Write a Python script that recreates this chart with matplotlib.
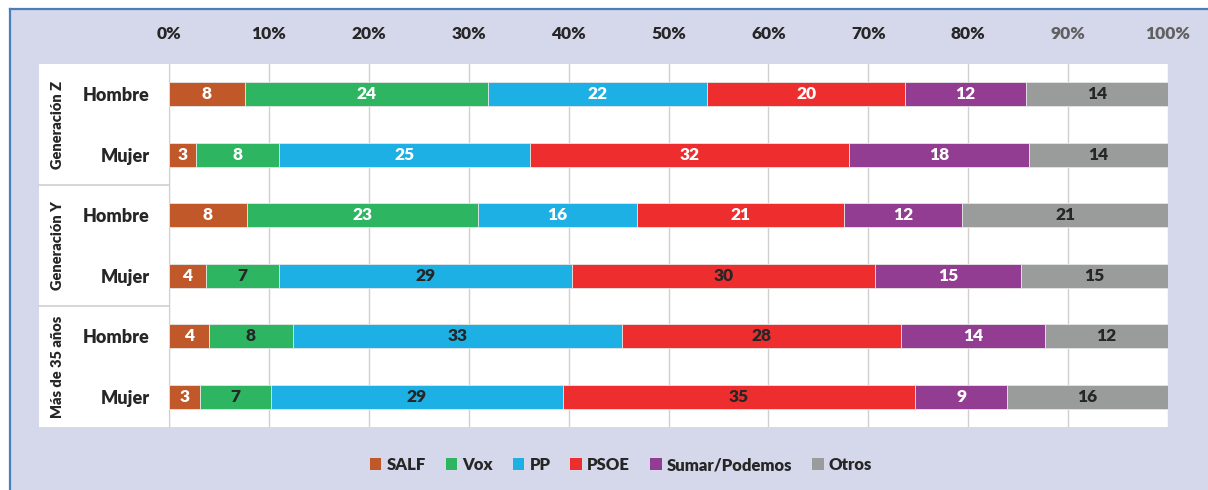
import matplotlib
matplotlib.use('Agg')
import matplotlib.pyplot as plt
import matplotlib.transforms as mtransforms
from matplotlib.patches import Rectangle, Patch
from matplotlib.lines import Line2D

# rows top to bottom
groups = ['Generación Z', 'Generación Y', 'Más de 35 años']
rows = ['Hombre', 'Mujer', 'Hombre', 'Mujer', 'Hombre', 'Mujer']
parties = ['SALF', 'Vox', 'PP', 'PSOE', 'Sumar/Podemos', 'Otros']

salf = [7.6, 2.7, 7.8, 3.7, 4.0, 3.1]
vox = [24.3, 8.3, 23.1, 7.3, 8.4, 7.1]
pp = [22.0, 25.1, 15.9, 29.3, 32.9, 29.2]
psoe = [19.8, 32.0, 20.8, 30.4, 28.0, 35.3]
sumar = [12.1, 18.0, 11.8, 14.6, 14.4, 9.2]
otros = [14.2, 13.9, 20.6, 14.7, 12.3, 16.1]

ticks = [0, 10, 20, 30, 40, 50, 60, 70, 80, 90, 100]
tick_labels = ['0%', '10%', '20%', '30%', '40%', '50%', '60%', '70%', '80%', '90%', '100%']

colors = ['#c0582a', '#2db562', '#1cb0e4', '#ee2e2e', '#923d92', '#9a9c9c']
dark = '#262626'
# label colour per row, per party (True = dark text)
dark_labels = [
    [False, False, False, False, False, True],
    [False, False, False, False, False, True],
    [False, False, False, False, False, True],
    [False, True, True, True, False, True],
    [False, True, True, True, False, True],
    [False, True, True, True, False, True],
]

plt.rcParams['font.family'] = ['Lato', 'DejaVu Sans']
plt.rcParams['font.weight'] = 'heavy'
W_BOLD = 'heavy'

W, H = 1208, 490
fig = plt.figure(figsize=(W / 100, H / 100), dpi=100, facecolor='white')

# lavender panel with blue border top/left
fig.patches.append(Rectangle((10 / W, 0), 1 - 10 / W, 1 - 9 / H, transform=fig.transFigure,
                             facecolor='#d5d8ea', edgecolor='none', zorder=-3))
fig.add_artist(Line2D([10 / W, 1], [1 - 9 / H, 1 - 9 / H], color='#4a7ebb', lw=1.6, zorder=-2))
fig.add_artist(Line2D([10 / W, 10 / W], [0, 1 - 9 / H], color='#4a7ebb', lw=1.6, zorder=-2))

# white table area left of the bars
fig.patches.append(Rectangle((39 / W, 1 - 427 / H), (169 - 39) / W, 363 / H, transform=fig.transFigure,
                             facecolor='white', edgecolor='none', zorder=-2))

ax = fig.add_axes([169 / W, 1 - 427 / H, (1168 - 169) / W, 363 / H])
ax.set_zorder(1)
ax.set_facecolor('white')

series = [salf, vox, pp, psoe, sumar, otros]
ypos = list(range(len(rows)))
left = [0.0] * len(rows)
for k, vals in enumerate(series):
    bars = ax.barh(ypos, vals, left=left, height=0.4, color=colors[k],
                   edgecolor='#e6e6e6', linewidth=0.6, label=parties[k], zorder=3)
    for i, b in enumerate(bars):
        c = dark if dark_labels[i][k] else 'white'
        ax.text(left[i] + vals[i] / 2, ypos[i], f'{vals[i]:.0f}', ha='center', va='center',
                color=c, fontsize=12.5, fontweight=W_BOLD, zorder=4)
    left = [l + v for l, v in zip(left, vals)]

ax.set_xlim(0, 100)
ax.set_ylim(len(rows) - 0.5, -0.5)
ax.set_xticks(ticks)
ax.set_xticklabels(tick_labels, fontweight=W_BOLD)
ax.xaxis.tick_top()
ax.tick_params(axis='x', length=0, pad=16, labelsize=12.5, colors=dark)
for lbl in ax.get_xticklabels()[-2:]:
    lbl.set_color('#606060')
ax.set_yticks(ypos)
ax.set_yticklabels(rows, fontweight=W_BOLD)
ax.tick_params(axis='y', length=0, pad=14, labelsize=13, colors=dark)
ax.grid(axis='x', color='#d0d0d0', lw=1, zorder=0)
ax.set_axisbelow(True)
for s in ['top', 'right', 'bottom']:
    ax.spines[s].set_visible(False)
ax.spines['left'].set_color('#d0d0d0')

# group labels and separators in the left table
blend = mtransforms.blended_transform_factory(fig.transFigure, ax.transData)
for g, name in enumerate(groups):
    fig.text(57 / W, 2 * g + 0.5, name, transform=blend, rotation=90, ha='center', va='center',
             fontsize=10.5, fontweight=W_BOLD, color=dark)
for yb in [1.5, 3.5]:
    fig.add_artist(Line2D([39 / W, 169 / W], [yb, yb], transform=blend, color='#d0d0d0', lw=1.2))

handles = [Patch(facecolor=c, edgecolor='none') for c in colors]
fig.legend(handles, parties, loc='center', bbox_to_anchor=(0.514, 1 - 465 / H), ncol=6,
           frameon=False, handlelength=0.7, handleheight=0.7,
           handletextpad=0.3, columnspacing=1.2, labelcolor=dark,
           prop={'size': 12, 'weight': W_BOLD})

fig.savefig('out.png', dpi=100, facecolor=fig.get_facecolor())
